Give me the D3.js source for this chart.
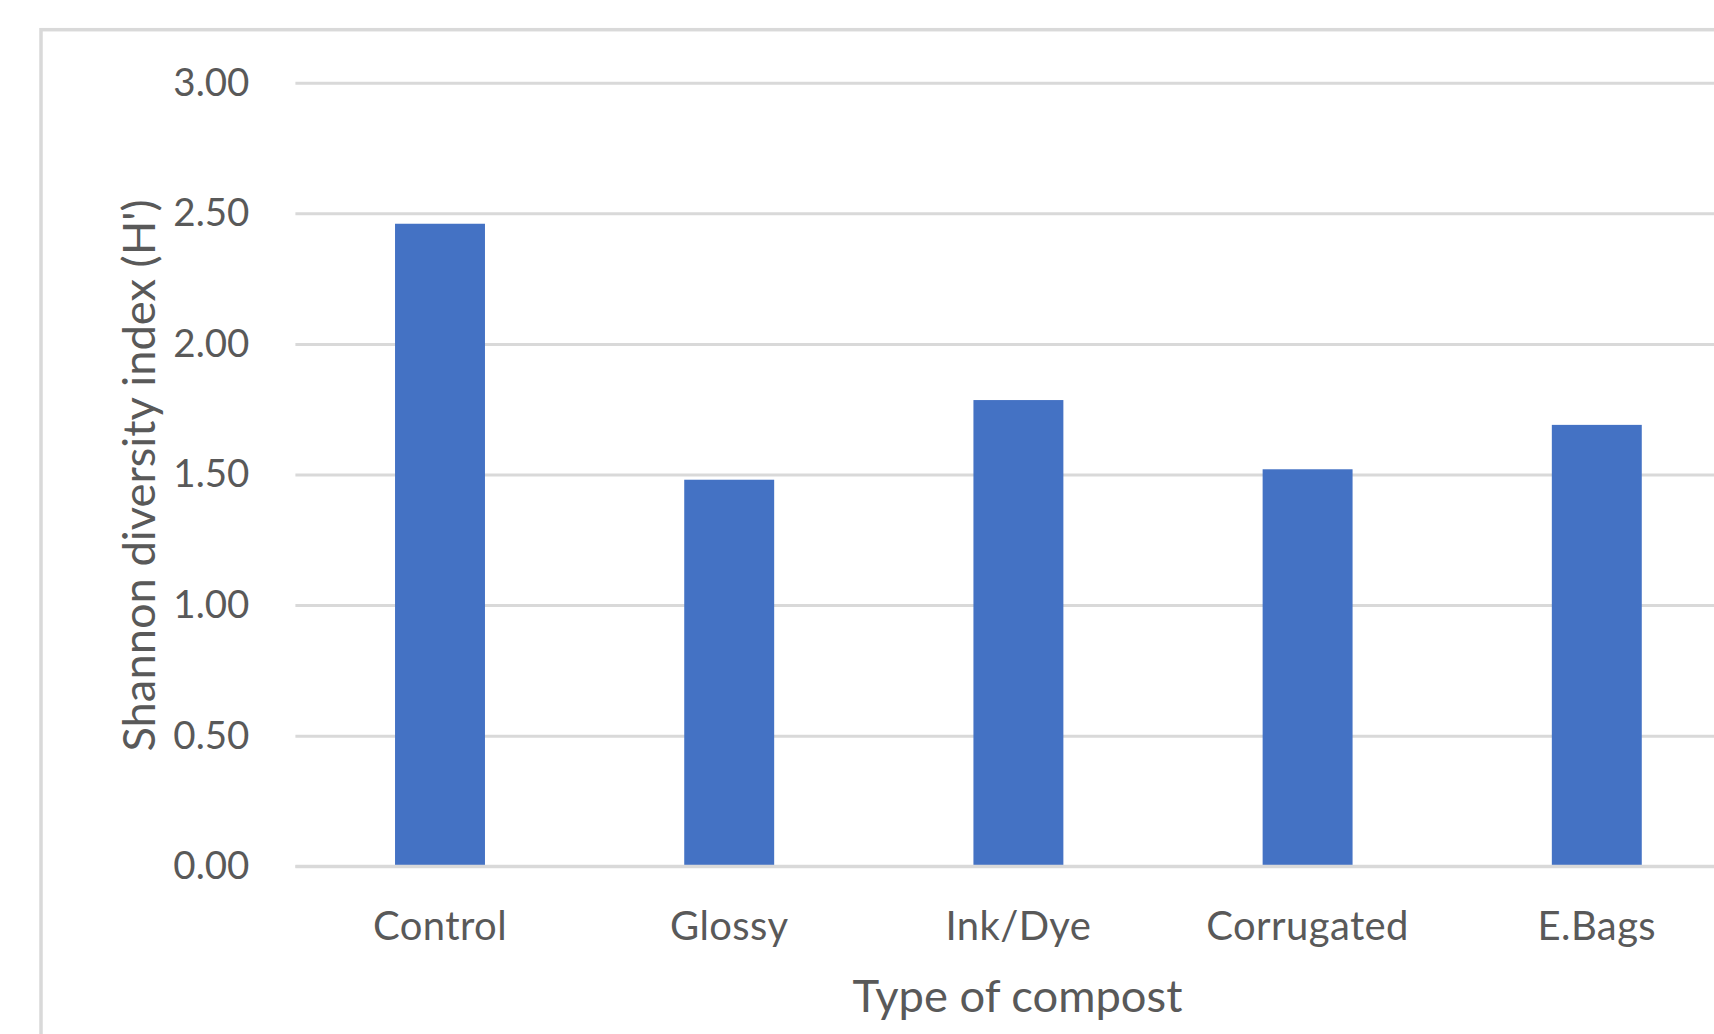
<!DOCTYPE html>
<html>
<head>
<meta charset="utf-8">
<script src="https://cdnjs.cloudflare.com/ajax/libs/d3/7.8.5/d3.min.js"></script>
<style>
  html, body { margin: 0; padding: 0; background: #ffffff; }
  svg { display: block; }
  text { font-family: Lato, "Open Sans", sans-serif; fill: #595959; }
</style>
</head>
<body>
<svg id="chart" width="1714" height="1034"></svg>
<script>
// ---- data ----
const categories = ["Control", "Glossy", "Ink/Dye", "Corrugated", "E.Bags"];
const shannonValues = [2.46, 1.48, 1.785, 1.52, 1.69];
const yTicks = [0, 0.5, 1.0, 1.5, 2.0, 2.5, 3.0];
const xTitle = "Type of compost";
const yTitle = "Shannon diversity index (H')";

// ---- layout ----
const W = 1714, H = 1034;
const plot = { left: 295.4, right: 1741.4, top: 82.7, bottom: 866.3 };

const svg = d3.select("#chart");

// chart border (extends beyond the visible crop)
svg.append("rect")
  .attr("x", 41).attr("y", 29.7)
  .attr("width", 3000).attr("height", 3000)
  .attr("fill", "#ffffff")
  .attr("stroke", "#d9d9d9")
  .attr("stroke-width", 3.5);

const x = d3.scaleBand()
  .domain(categories)
  .range([plot.left, plot.right])
  .paddingInner(0.689)
  .paddingOuter(0.689 / 2);

const y = d3.scaleLinear()
  .domain([0, 3])
  .range([plot.bottom, plot.top]);

// y axis with gridlines
const yAxis = d3.axisLeft(y)
  .tickValues(yTicks)
  .tickFormat(d3.format(".2f"))
  .tickSizeInner(-(W - plot.left + 10))
  .tickSizeOuter(0)
  .tickPadding(46);

const gy = svg.append("g")
  .attr("transform", `translate(${plot.left},0)`)
  .call(yAxis);
gy.select(".domain").remove();
gy.selectAll(".tick line")
  .attr("stroke", "#d9d9d9")
  .attr("stroke-width", 3);
gy.selectAll(".tick text")
  .attr("font-size", 38.5)
  .attr("fill", "#595959")
  .style("font-family", "Lato, 'Open Sans', sans-serif");

// bars
svg.append("g")
  .selectAll("rect")
  .data(categories)
  .join("rect")
  .attr("x", d => x(d))
  .attr("width", x.bandwidth())
  .attr("y", (d, i) => y(shannonValues[i]))
  .attr("height", (d, i) => y(0) - y(shannonValues[i]))
  .attr("fill", "#4472C4");

// baseline over bars
svg.append("line")
  .attr("x1", plot.left).attr("x2", W + 10)
  .attr("y1", y(0)).attr("y2", y(0))
  .attr("stroke", "#d9d9d9")
  .attr("stroke-width", 3);

// x axis labels
const xAxis = d3.axisBottom(x).tickSize(0).tickPadding(0);
const gx = svg.append("g")
  .attr("transform", `translate(0,${y(0)})`)
  .call(xAxis);
gx.select(".domain").remove();
gx.selectAll(".tick text")
  .attr("y", 73.5)
  .attr("dy", 0)
  .attr("font-size", 40)
  .attr("letter-spacing", 0.4)
  .attr("fill", "#595959")
  .style("font-family", "Lato, 'Open Sans', sans-serif");

// axis titles
svg.append("text")
  .attr("x", (plot.left + plot.right) / 2 - 1)
  .attr("y", 1011.5)
  .attr("text-anchor", "middle")
  .attr("font-size", 45.3)
  .text(xTitle);

svg.append("text")
  .attr("transform", `translate(155,${(plot.top + plot.bottom) / 2 + 1}) rotate(-90)`)
  .attr("text-anchor", "middle")
  .attr("font-size", 45.3)
  .text(yTitle);
</script>
</body>
</html>
